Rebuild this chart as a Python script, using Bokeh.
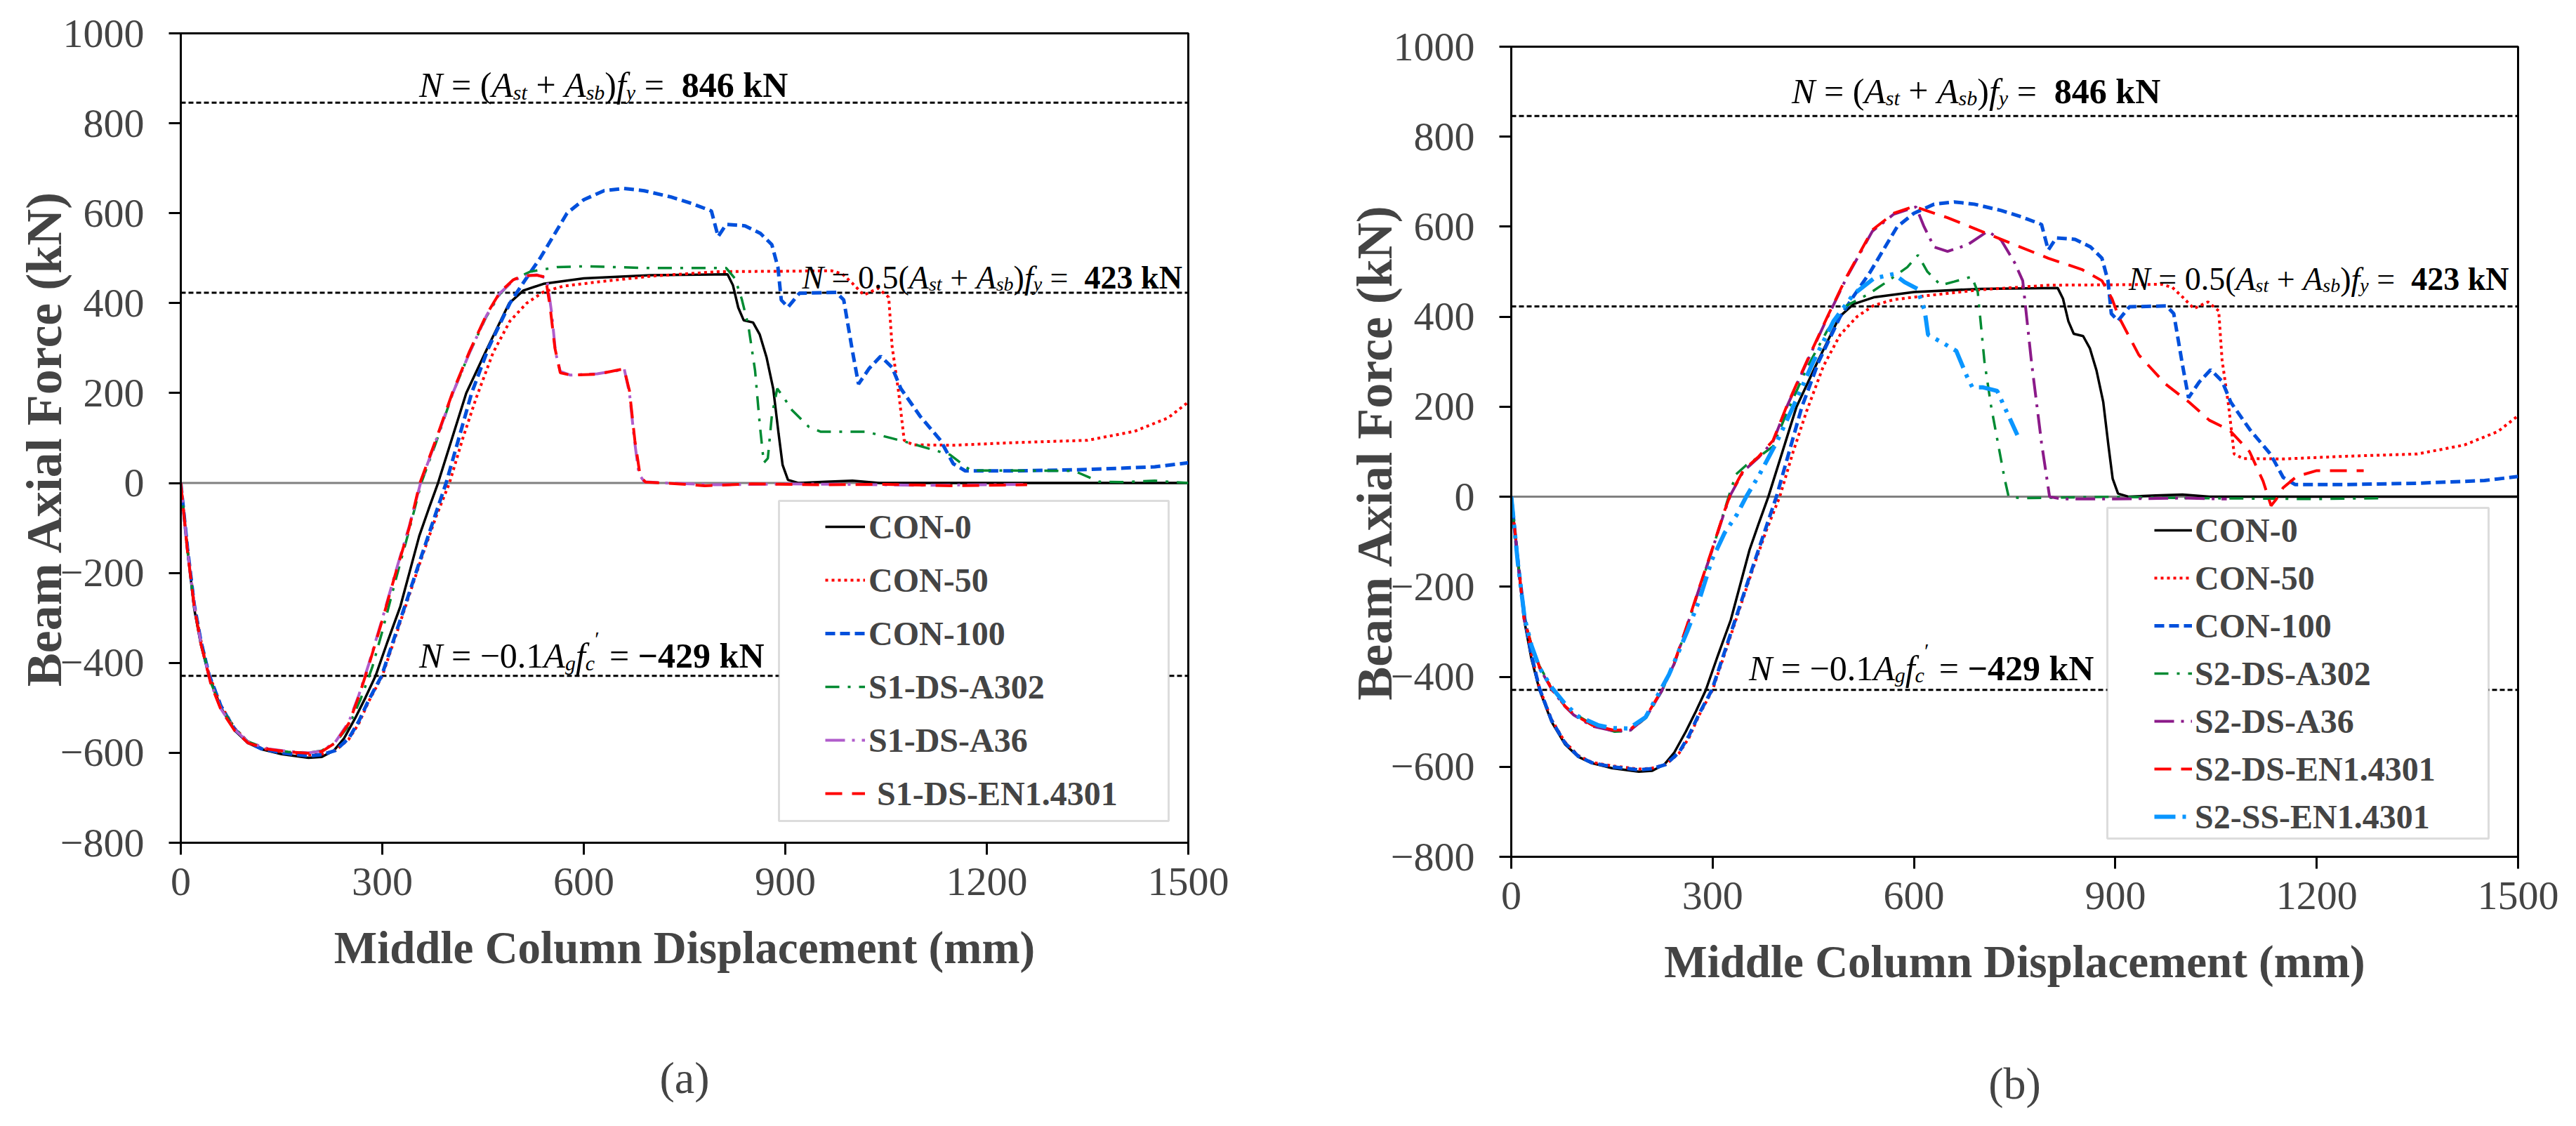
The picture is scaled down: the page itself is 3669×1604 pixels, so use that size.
from bokeh.plotting import figure
from bokeh.models import Range1d, FixedTicker, Span, Label, Legend, LegendItem, BoxAnnotation, Title, Spacer
from bokeh.layouts import row, column
from bokeh.embed import file_html
from bokeh.resources import INLINE

FONT = "Liberation Serif"

# ---- data (displacement in mm, axial force in kN) ----
x_ticks = [0, 300, 600, 900, 1200, 1500]
y_ticks = [-800, -600, -400, -200, 0, 200, 400, 600, 800, 1000]
ref_lines = [846, 423, -429]

con0_x = [0, 10, 20, 30, 42, 60, 80, 100, 120, 150, 190, 210, 228, 243, 260, 275, 290, 308, 327, 341, 355, 369,
          383, 404, 425, 458, 489, 510, 540, 600, 700, 814, 822, 830, 838, 852, 862, 872, 882, 890, 896, 904, 920,
          960, 1000, 1040, 1200, 1500]
con0_y = [0, -150, -280, -360, -429, -500, -550, -578, -592, -603, -611, -609, -595, -568, -522, -477, -429, -352,
          -274, -196, -118, -58, 0, 100, 200, 305, 400, 428, 443, 455, 462, 464, 440, 390, 362, 357, 330, 280, 210,
          110, 40, 7, 0, 3, 5, 0, 0, 0]

con50_x = [0, 10, 20, 30, 42, 60, 80, 100, 120, 150, 190, 210, 230, 250, 265, 280, 300, 320, 340, 360, 380, 400,
           420, 440, 465, 490, 515, 540, 570, 620, 700, 800, 900, 969, 985, 1000, 1017, 1038, 1054, 1059, 1069,
           1077, 1090, 1150, 1244, 1350, 1420, 1470, 1500]
con50_y = [0, -145, -270, -350, -425, -495, -545, -575, -590, -598, -605, -603, -595, -570, -535, -485, -429, -340,
           -250, -160, -75, 0, 100, 190, 290, 360, 400, 425, 438, 447, 460, 470, 471, 472, 465, 444, 418, 433, 413,
           304, 199, 95, 85, 84, 90, 95, 115, 145, 180]

con100_x = [0, 10, 20, 30, 42, 60, 80, 100, 120, 150, 190, 210, 230, 250, 265, 280, 299, 320, 340, 360, 378, 395,
            415, 433, 458, 490, 512, 535, 555, 575, 600, 630, 660, 690, 730, 760, 790, 800, 812, 840, 863, 880,
            889, 894, 904, 921, 976, 987, 1000, 1009, 1025, 1042, 1059, 1072, 1101, 1131, 1150, 1168, 1244, 1350,
            1450, 1500]
con100_y = [0, -145, -270, -352, -426, -497, -547, -577, -591, -600, -607, -604, -595, -568, -530, -482, -429, -335,
            -245, -155, -75, 0, 105, 200, 300, 400, 450, 500, 550, 600, 630, 650, 655, 650, 636, 622, 605, 548, 575,
            572, 555, 530, 480, 407, 391, 422, 424, 407, 293, 220, 255, 282, 257, 210, 148, 95, 43, 27, 27, 30, 36,
            45]

s1_a302_x = [0, 10, 20, 30, 45, 60, 80, 100, 130, 160, 190, 210, 230, 250, 268, 285, 300, 320, 340, 358, 380, 405,
             430, 455, 475, 495, 520, 560, 600, 700, 812, 825, 835, 845, 855, 862, 868, 874, 880, 888, 900, 910,
             935, 953, 1021, 1083, 1145, 1176, 1330, 1367, 1400, 1450, 1500]
s1_a302_y = [0, -150, -275, -355, -445, -500, -545, -575, -592, -598, -600, -595, -578, -540, -480, -410, -330,
             -215, -105, 0, 90, 200, 290, 370, 420, 452, 470, 480, 482, 478, 478, 455, 410, 350, 250, 130, 45, 55,
             150, 210, 185, 162, 125, 114, 114, 90, 63, 28, 27, 3, 2, 5, 0]

s1_a36_x = [0, 10, 20, 30, 45, 60, 80, 100, 130, 160, 190, 210, 230, 250, 265, 280, 300, 320, 340, 357, 380, 405,
            430, 455, 475, 495, 510, 530, 545, 552, 558, 565, 580, 620, 650, 660, 668, 675, 682, 690, 720, 800,
            900, 1000, 1100, 1200, 1260]
s1_a36_y = [0, -150, -272, -357, -447, -503, -548, -576, -591, -597, -600, -596, -576, -532, -472, -402, -302,
            -197, -97, 0, 95, 200, 290, 372, 422, 450, 460, 463, 455, 380, 290, 248, 240, 243, 250, 255, 200, 100,
            20, 3, 0, -4, -2, -3, -5, -4, -3]

s1_en_x = [0, 10, 20, 30, 45, 60, 80, 100, 130, 160, 190, 210, 230, 250, 265, 280, 300, 320, 340, 356, 380, 405,
           430, 455, 475, 495, 510, 530, 543, 550, 557, 565, 580, 620, 650, 660, 668, 676, 684, 692, 720, 780, 850,
           950, 1050, 1150, 1260]
s1_en_y = [0, -152, -275, -358, -448, -505, -550, -578, -592, -598, -601, -597, -578, -535, -475, -405, -305, -200,
           -100, 0, 97, 203, 293, 374, 424, 452, 461, 462, 458, 390, 300, 245, 240, 242, 251, 254, 205, 95, 15, 2,
           0, -6, -2, -4, -3, -6, -4]

s2_a302_x = [0, 10, 19, 30, 42, 61, 80, 93, 121, 154, 177, 201, 224, 243, 262, 280, 299, 318, 327, 335, 350, 370,
             390, 410, 440, 471, 500, 532, 560, 590, 606, 620, 640, 660, 686, 695, 705, 715, 725, 735, 741, 760,
             900, 1000, 1100, 1200, 1300]
s2_a302_y = [0, -140, -268, -328, -376, -427, -463, -481, -506, -522, -520, -491, -433, -371, -288, -205, -121,
             -28, 15, 50, 70, 90, 112, 185, 285, 370, 425, 450, 478, 510, 537, 500, 470, 478, 489, 455, 300, 200,
             120, 40, 0, -3, 0, -3, -4, -5, -3]

s2_a36_x = [0, 10, 19, 30, 42, 61, 80, 93, 121, 154, 177, 201, 224, 243, 262, 280, 299, 318, 327, 346, 369, 390,
            410, 440, 471, 500, 538, 570, 603, 615, 630, 650, 680, 710, 730, 750, 762, 775, 790, 802, 820, 900,
            1000, 1066]
s2_a36_y = [0, -142, -272, -332, -380, -430, -466, -485, -510, -521, -519, -490, -432, -370, -287, -204, -120, -32,
            5, 57, 88, 123, 198, 298, 398, 488, 590, 628, 644, 600, 555, 545, 560, 590, 570, 520, 480, 300, 120, 0,
            -5, -5, -3, -5]

s2_en_x = [0, 10, 19, 30, 42, 61, 80, 93, 121, 154, 177, 201, 224, 243, 262, 280, 299, 318, 327, 346, 369, 390,
           410, 440, 471, 500, 538, 570, 600, 650, 700, 750, 800, 850, 880, 895, 905, 935, 975, 1010, 1040, 1070,
           1100, 1120, 1132, 1140, 1150, 1170, 1200, 1270]
s2_en_y = [0, -140, -270, -330, -378, -429, -465, -483, -508, -519, -517, -488, -430, -368, -285, -202, -118, -30, 7,
           59, 90, 125, 200, 300, 400, 490, 593, 630, 645, 620, 590, 560, 530, 505, 480, 440, 400, 315, 250, 210,
           170, 148, 100, 35, -20, -5, 20, 45, 58, 58]

s2_ss_x = [0, 10, 20, 30, 42, 61, 80, 100, 130, 150, 175, 200, 215, 235, 262, 280, 299, 318, 336, 350, 370, 395,
           420, 450, 480, 510, 540, 570, 586, 605, 616, 621, 645, 663, 679, 687, 703, 724, 735, 754]
s2_ss_y = [0, -150, -270, -330, -380, -425, -460, -488, -508, -514, -515, -490, -450, -395, -300, -230, -140, -80,
           -40, 0, 50, 120, 200, 300, 390, 450, 485, 495, 477, 462, 413, 360, 340, 324, 267, 243, 243, 235, 199, 137]

# ---- drawing ----
EM = {
    "normal": {" ": .25, "=": .564, "(": .333, ")": .333, "+": .564, ".": .25, "−": .564, "′": .275, "k": .5, "N": .722},
    "italic": {"N": .667, "A": .611, "s": .389, "t": .278, "b": .5, "f": .278, "y": .444, "g": .5, "c": .444},
    "bold": {" ": .25, "k": .556, "N": .722, "−": .57},
}


def advance(txt, style, size):
    return sum(EM[style].get(ch, .5) for ch in txt) * size


def equation(p, x, y, parts):
    off = 0
    for txt, style, size, rise in parts:
        core = txt.strip(" ")
        off += (len(txt) - len(txt.lstrip(" "))) * .25 * size
        if core:
            p.add_layout(Label(x=x, y=y, x_offset=off, y_offset=rise, text=core, text_font=FONT,
                               text_font_style=style, text_font_size=f"{size}px", text_baseline="alphabetic",
                               text_color="black"))
        off += advance(core, style, size)
        off += (len(txt) - len(txt.rstrip(" "))) * .25 * size


def eq_steel(lead, value, big, sub):
    d = -round(big * 0.19)
    return [("N", "italic", big, 0), (lead, "normal", big, 0), ("A", "italic", big, 0), ("st", "italic", sub, d),
            (" + ", "normal", big, 0), ("A", "italic", big, 0), ("sb", "italic", sub, d), (")", "normal", big, 0),
            ("f", "italic", big, 0), ("y", "italic", sub, d), (" =  ", "normal", big, 0), (value, "bold", big, 0)]


def eq_conc(value, big, sub):
    d = -round(big * 0.19)
    return [("N", "italic", big, 0), (" = −0.1", "normal", big, 0), ("A", "italic", big, 0),
            ("g", "italic", sub, d), ("f", "italic", big, 0), ("c", "italic", sub, d),
            ("′", "normal", sub, round(big * 0.5)), (" = ", "normal", big, 0), (value, "bold", big, 0)]


def panel(fw, fh, left, right, top, bottom):
    p = figure(frame_width=fw, frame_height=fh, x_range=Range1d(0, 1500), y_range=Range1d(-800, 1000),
               output_backend="svg", toolbar_location=None, title=None,
               min_border_left=left, min_border_right=right, min_border_top=top, min_border_bottom=bottom)
    p.grid.visible = False
    p.background_fill_color = "white"
    p.border_fill_color = "white"
    p.outline_line_color = "black"
    p.outline_line_width = 3
    p.xaxis.ticker = FixedTicker(ticks=x_ticks)
    p.yaxis.ticker = FixedTicker(ticks=y_ticks)
    p.yaxis.major_label_overrides = {v: str(v).replace("-", "−") for v in y_ticks}
    for ax in (p.xaxis, p.yaxis):
        ax.axis_line_width = 3
        ax.major_tick_line_width = 3
        ax.major_tick_out = 17
        ax.major_tick_in = 0
        ax.minor_tick_line_color = None
        ax.major_label_text_font = FONT
        ax.major_label_text_font_size = "58px"
        ax.axis_label_text_font = FONT
        ax.axis_label_text_font_style = "bold"
    p.xaxis.axis_label_text_font_size = "65px"
    p.yaxis.axis_label_text_font_size = "72px"
    p.xaxis.major_label_standoff = 19
    p.yaxis.major_label_standoff = 35
    p.xaxis.axis_label_standoff = 36
    p.yaxis.axis_label_standoff = -20
    p.xaxis.axis_label = "Middle Column Displacement (mm)"
    p.yaxis.axis_label = "Beam Axial Force (kN)"
    p.add_layout(Span(location=0, dimension="width", line_color="#808080", line_width=3, level="underlay"))
    for v in ref_lines:
        p.add_layout(Span(location=v, dimension="width", line_color="black", line_width=3,
                          line_dash="7 4", level="underlay"))
    return p


STYLES = {
    "CON-0": dict(line_color="black", line_width=3.5),
    "CON-50": dict(line_color="#FF0000", line_width=4, line_dash="4 5"),
    "CON-100": dict(line_color="#0050DC", line_width=5, line_dash="14 7"),
    "A302": dict(line_color="#008A32", line_width=3.5, line_dash="20 12 4 12"),
    "EN": dict(line_color="#FF0000", line_width=4, line_dash="24 14"),
    "SS": dict(line_color="#0A96FF", line_width=6, line_dash="30 10 5 10 5 10"),
}

# (a)
pa = panel(1435, 1153, 257, 148, 47, 388)
series_a = [
    ("CON-0", con0_x, con0_y, STYLES["CON-0"]),
    ("CON-50", con50_x, con50_y, STYLES["CON-50"]),
    ("CON-100", con100_x, con100_y, STYLES["CON-100"]),
    ("S1-DS-A302", s1_a302_x, s1_a302_y, STYLES["A302"]),
    ("S1-DS-A36", s1_a36_x, s1_a36_y, dict(line_color="#B05CCB", line_width=4, line_dash="28 10 4 10")),
    (" S1-DS-EN1.4301", s1_en_x, s1_en_y, STYLES["EN"]),
]
items = []
for name, xs, ys, st in series_a:
    r = pa.line(xs, ys, **st)
    items.append(LegendItem(label=name, renderers=[r]))
pa.add_layout(BoxAnnotation(left=890.6, right=1470.7, top=-39.7, bottom=-751.6, fill_color="white", fill_alpha=1,
                            line_color="#8c8c8c", line_width=3))
pa.add_layout(Legend(items=items, location=(918, 32), label_text_font=FONT, label_text_font_style="bold",
                     label_text_font_size="48px", label_height=76, glyph_width=57, glyph_height=20,
                     label_standoff=5, spacing=0, padding=0, margin=0, border_line_alpha=0,
                     background_fill_alpha=0))
equation(pa, 355, 885, eq_steel(" = (", "846 kN", 50, 30))
equation(pa, 925, 457, eq_steel(" = 0.5(", "423 kN", 46, 28))
equation(pa, 355, -384, eq_conc("−429 kN", 50, 30))
pa.add_layout(Title(text="(a)", align="center", text_font=FONT, text_font_size="64px",
                    text_font_style="normal", standoff=219), "below")

# (b) sits about 19 px lower than (a) in the reference
pb = panel(1434, 1154, 312, 67, 47, 368)
series_b = [
    ("CON-0", con0_x, con0_y, STYLES["CON-0"]),
    ("CON-50", con50_x, con50_y, STYLES["CON-50"]),
    ("CON-100", con100_x, con100_y, STYLES["CON-100"]),
    ("S2-DS-A302", s2_a302_x, s2_a302_y, STYLES["A302"]),
    ("S2-DS-A36", s2_a36_x, s2_a36_y, dict(line_color="#8B1A89", line_width=4, line_dash="28 10 4 10")),
    ("S2-DS-EN1.4301", s2_en_x, s2_en_y, STYLES["EN"]),
    ("S2-SS-EN1.4301", s2_ss_x, s2_ss_y, STYLES["SS"]),
]
items = []
for name, xs, ys, st in series_b:
    r = pb.line(xs, ys, **st)
    items.append(LegendItem(label=name, renderers=[r]))
pb.add_layout(BoxAnnotation(left=888.1, right=1456.1, top=-24.8, bottom=-759.5, fill_color="white", fill_alpha=1,
                            line_color="#8c8c8c", line_width=3))
pb.add_layout(Legend(items=items, location=(916, 23), label_text_font=FONT, label_text_font_style="bold",
                     label_text_font_size="48px", label_height=68, glyph_width=54, glyph_height=20,
                     label_standoff=4, spacing=0, padding=0, margin=0, border_line_alpha=0,
                     background_fill_alpha=0))
equation(pb, 418, 901, eq_steel(" = (", "846 kN", 50, 30))
equation(pb, 920, 484, eq_steel(" = 0.5(", "423 kN", 46, 28))
equation(pb, 354, -381, eq_conc("−429 kN", 50, 30))
pb.add_layout(Title(text="(b)", align="center", text_font=FONT, text_font_size="64px",
                    text_font_style="normal", standoff=195), "below")

layout = row(pa, column(Spacer(width=10, height=19), pb))
open("out.html", "w").write(file_html(layout, INLINE))
